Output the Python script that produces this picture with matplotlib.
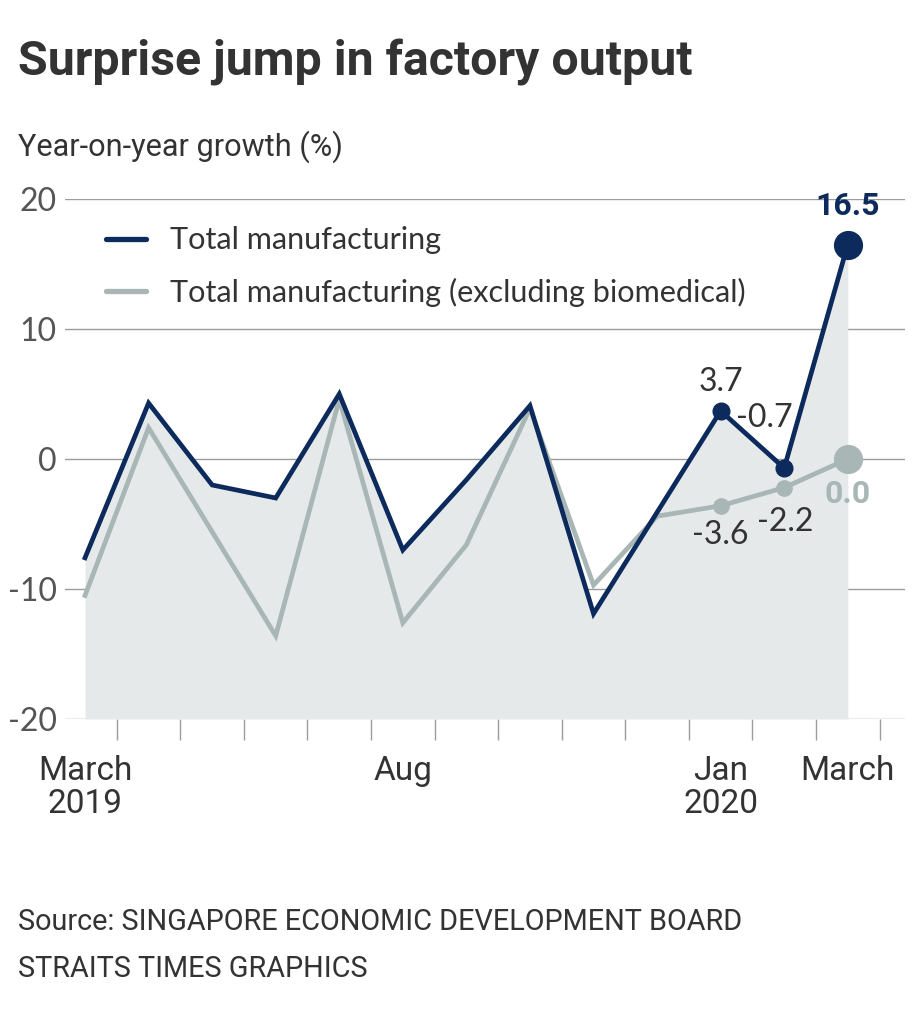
import matplotlib
matplotlib.use('Agg')
import matplotlib.pyplot as plt
from matplotlib import font_manager
from matplotlib.lines import Line2D
import numpy as np

plt.rcParams['axes.unicode_minus'] = False

# ---------------- data ----------------
months = ['Mar 2019', 'Apr', 'May', 'Jun', 'Jul', 'Aug', 'Sep', 'Oct', 'Nov', 'Dec',
          'Jan 2020', 'Feb', 'Mar 2020']
total = [-7.6, 4.3, -2.0, -3.0, 5.0, -7.0, -1.6, 4.1, -11.9, -4.1, 3.7, -0.7, 16.5]
excl_bio = [-10.5, 2.4, -5.6, -13.6, 4.6, -12.6, -6.6, 3.9, -9.7, -4.4, -3.6, -2.2, 0.0]
series_names = ['Total manufacturing', 'Total manufacturing (excluding biomedical)']
xtick_pos = [0, 5, 10, 12]
xtick_labels = ['March\n2019', 'Aug', 'Jan\n2020', 'March']
yticks = [-20, -10, 0, 10, 20]
title = 'Surprise jump in factory output'
subtitle = 'Year-on-year growth (%)'
source1 = 'Source: SINGAPORE ECONOMIC DEVELOPMENT BOARD'
source2 = 'STRAITS TIMES GRAPHICS'

# ---------------- style ----------------
names = {f.name for f in font_manager.fontManager.ttflist}
def pick(*fams):
    for f in fams:
        if f in names:
            return f
    return 'DejaVu Sans'
NARROW = pick('Liberation Sans Narrow', 'Roboto', 'Liberation Sans')
REG = pick('Lato', 'Open Sans', 'Roboto')
BOLD = pick('Roboto', 'Lato', 'Liberation Sans')

DARK = '#0c2a5b'
GREY = '#a8b6b5'
FILL = '#e6e9ea'
TXT = '#333333'
YTXT = '#555555'
GRID = '#9c9c9c'

W, H = 920, 1014
fig = plt.figure(figsize=(W / 100, H / 100), dpi=100)
fig.patch.set_facecolor('white')
ax = fig.add_axes([65 / W, 1 - 719 / H, 840 / W, 520 / H])
renderer = fig.canvas.get_renderer()

def fx(px):
    return px / W

def fy(py):
    return 1 - py / H

def fit_size(text, family, weight, target_px, base=20):
    t = fig.text(0, 0, text, fontsize=base, family=family, weight=weight)
    w = t.get_window_extent(renderer).width
    t.remove()
    return base * target_px / w

x = np.arange(len(months))

# fill under total manufacturing
ax.fill_between(x, total, -20, color=FILL, lw=0, zorder=1)
ax.plot(x, excl_bio, color=GREY, lw=3.4, zorder=3, solid_joinstyle='miter')
ax.plot(x, total, color=DARK, lw=3.4, zorder=4, solid_joinstyle='miter')

# markers on last three months
ax.plot(x[10:12], excl_bio[10:12], 'o', color=GREY, ms=11, zorder=5)
ax.plot(x[12:], excl_bio[12:], 'o', color=GREY, ms=20, zorder=5)
ax.plot(x[10:12], total[10:12], 'o', color=DARK, ms=12, zorder=6)
ax.plot(x[12:], total[12:], 'o', color=DARK, ms=20, zorder=6)

ax.set_xlim(-0.315, 12.9)
ax.set_ylim(-20, 20)

for s in ax.spines.values():
    s.set_visible(False)
ax.set_yticks(yticks)
ax.yaxis.grid(True, color=GRID, lw=1.0, zorder=0)
ax.set_axisbelow(True)
ax.tick_params(axis='y', length=0, pad=6, labelsize=23, labelcolor=YTXT)
for lab in ax.get_yticklabels():
    lab.set_family(REG)

ax.set_xticks(xtick_pos)
ax.set_xticklabels(xtick_labels, family=NARROW, fontsize=24, color=TXT, linespacing=1.05)
ax.tick_params(axis='x', which='major', length=0, pad=26)
ax.set_xticks(x + 0.5, minor=True)
ax.tick_params(axis='x', which='minor', length=15, width=1.0, color=GRID)

# value labels
base = dict(ha='center', va='center', textcoords='offset points', fontsize=23)
ax.annotate(f'{total[10]:.1f}', (x[10], total[10]), xytext=(0, 21), color=TXT, family=REG, **base)
ax.annotate(f'{total[11]:.1f}', (x[11], total[11]), xytext=(-14, 36), color=TXT, family=REG, **base)
ax.annotate(f'{total[12]:.1f}', (x[12], total[12]), xytext=(0, 28), color=DARK,
            weight='bold', family=BOLD, **base)
ax.annotate(f'{excl_bio[10]:.1f}', (x[10], excl_bio[10]), xytext=(0, -21), color=TXT, family=REG, **base)
ax.annotate(f'{excl_bio[11]:.1f}', (x[11], excl_bio[11]), xytext=(1, -25), color=TXT, family=REG, **base)
ax.annotate(f'{excl_bio[12]:.1f}', (x[12], excl_bio[12]), xytext=(0, -25), color=GREY,
            weight='bold', family=BOLD, **base)

# legend
lfs = fit_size(series_names[0], REG, 'normal', 272)
lfpx = lfs * 100 / 72
handles = [Line2D([], [], color=DARK, lw=3.8, solid_capstyle='round'),
           Line2D([], [], color=GREY, lw=3.8, solid_capstyle='round')]
leg = ax.legend(handles, series_names, loc='center left',
                bbox_to_anchor=(fx(106) / (840 / W) - 65 / 840, 1 - (266.5 - 199) / 520),
                frameon=False, prop={'family': REG, 'size': lfs},
                handlelength=40 / lfpx, handletextpad=24 / lfpx,
                labelspacing=(59 - lfpx * 1.17) / lfpx, borderpad=0, borderaxespad=0)
for t in leg.get_texts():
    t.set_color(TXT)

# titles and source
ts = fit_size(title, BOLD, 'bold', 672)
fig.text(fx(18), fy(76), title, family=BOLD, weight='bold', fontsize=ts, color=TXT, va='baseline')
ss = fit_size(subtitle, NARROW, 'normal', 324)
fig.text(fx(18), fy(156), subtitle, family=NARROW, fontsize=ss, color=TXT, va='baseline')
s1 = fit_size(source1, NARROW, 'normal', 727)
fig.text(fx(18), fy(930), source1, family=NARROW, fontsize=s1, color=TXT, va='baseline')
fig.text(fx(18), fy(977), source2, family=NARROW, fontsize=s1, color=TXT, va='baseline')

fig.savefig('out.png', dpi=100, facecolor='white')
